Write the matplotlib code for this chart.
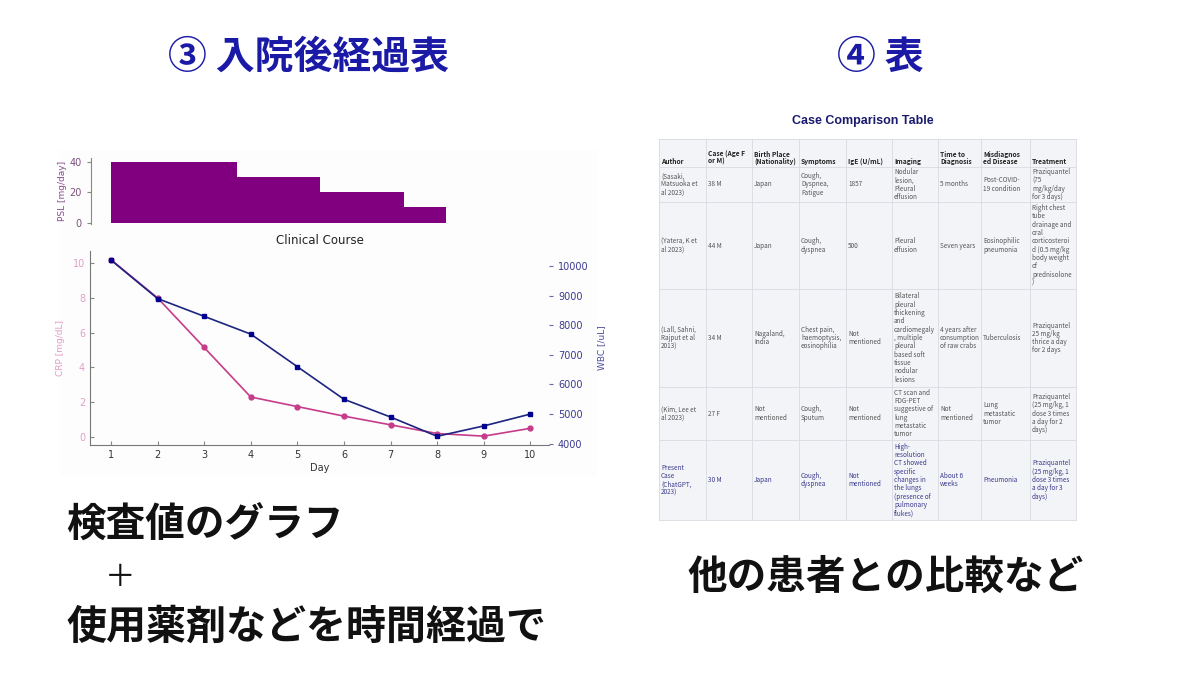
import matplotlib
matplotlib.use("Agg")
import matplotlib.pyplot as plt
from matplotlib.patches import Rectangle

JP = ["Noto Sans CJK JP", "DejaVu Sans"]

# --- clinical course data ---
days = [1, 2, 3, 4, 5, 6, 7, 8, 9, 10]
crp = [10.2, 8.0, 5.15, 2.3, 1.75, 1.2, 0.7, 0.2, 0.05, 0.5]
wbc = [10200, 8900, 8300, 7700, 6600, 5500, 4900, 4250, 4600, 5000]

psl_start = [1, 4, 6, 8]
psl_days = [3, 2, 2, 1]
psl_dose = [40, 30, 20, 10]

# --- comparison table data ---
table_title = "Case Comparison Table"
table_header = ["Author", "Case (Age F\nor M)", "Birth Place\n(Nationality)", "Symptoms",
                "IgE (U/mL)", "Imaging", "Time to\nDiagnosis", "Misdiagnos\ned Disease",
                "Treatment"]
table_rows = [
    ["(Sasaki,\nMatsuoka et\nal 2023)", "38 M", "Japan", "Cough,\nDyspnea,\nFatigue", "1857",
     "Nodular\nlesion,\nPleural\neffusion", "5 months", "Post-COVID-\n19 condition",
     "Praziquantel\n(75\nmg/kg/day\nfor 3 days)"],
    ["(Yatera, K et\nal 2023)", "44 M", "Japan", "Cough,\ndyspnea", "500",
     "Pleural\neffusion", "Seven years", "Eosinophilic\npneumonia",
     "Right chest\ntube\ndrainage and\noral\ncorticosteroi\nd (0.5 mg/kg\nbody weight\nof\nprednisolone\n)"],
    ["(Lall, Sahni,\nRajput et al\n2013)", "34 M", "Nagaland,\nIndia",
     "Chest pain,\nhaemoptysis,\neosinophilia", "Not\nmentioned",
     "Bilateral\npleural\nthickening\nand\ncardiomegaly\n, multiple\npleural\nbased soft\ntissue\nnodular\nlesions",
     "4 years after\nconsumption\nof raw crabs", "Tuberculosis",
     "Praziquantel\n25 mg/kg\nthrice a day\nfor 2 days"],
    ["(Kim, Lee et\nal 2023)", "27 F", "Not\nmentioned", "Cough,\nSputum", "Not\nmentioned",
     "CT scan and\nFDG-PET\nsuggestive of\nlung\nmetastatic\ntumor", "Not\nmentioned",
     "Lung\nmetastatic\ntumor",
     "Praziquantel\n(25 mg/kg, 1\ndose 3 times\na day for 2\ndays)"],
    ["Present\nCase\n(ChatGPT,\n2023)", "30 M", "Japan", "Cough,\ndyspnea", "Not\nmentioned",
     "High-\nresolution\nCT showed\nspecific\nchanges in\nthe lungs\n(presence of\npulmonary\nflukes)",
     "About 6\nweeks", "Pneumonia",
     "Praziquantel\n(25 mg/kg, 1\ndose 3 times\na day for 3\ndays)"],
]

# layout of the table in pixels
col_edges = [659, 706, 752, 799, 846, 892, 938, 981, 1030, 1076]
row_edges = [139, 167, 202, 289, 387, 440, 520]

W, H = 1200, 675


def px_axes(fig, x0, y0, x1, y1):
    return fig.add_axes([x0 / W, 1 - y1 / H, (x1 - x0) / W, (y1 - y0) / H])


fig = plt.figure(figsize=(12, 6.75), dpi=100)
fig.patch.set_facecolor("white")

# ---------- PSL bars ----------
axp = px_axes(fig, 91, 158, 548, 224)
axp.patch.set_alpha(0)
axp.bar(psl_start, psl_dose, width=psl_days, align="edge", color="#800080", linewidth=0)
axp.set_xlim(0.514, 11.45)
axp.set_ylim(-0.85, 42.4)
axp.set_yticks([0, 20, 40])
for s in ["top", "right", "bottom"]:
    axp.spines[s].set_visible(False)
axp.spines["left"].set_color("#888888")
axp.set_xticks([])
axp.tick_params(axis="y", labelsize=7, colors="#888888", labelcolor="#7b4f7b", length=3)
axp.set_ylabel("PSL [mg/day]", fontsize=6.5, color="#8a4a8a", labelpad=2)

# ---------- CRP / WBC ----------
ax = px_axes(fig, 90, 251, 549, 445)
ax.patch.set_alpha(0)
ax.plot(days, crp, color="#c63b8a", marker="o", markersize=3.5, linewidth=1.2)
ax.set_xlim(0.55, 10.4)
ax.set_ylim(-0.46, 10.7)
ax.set_xticks(days)
ax.set_yticks([0, 2, 4, 6, 8, 10])
for s in ["top", "right"]:
    ax.spines[s].set_visible(False)
ax.spines["left"].set_color("#777777")
ax.spines["bottom"].set_color("#777777")
ax.tick_params(axis="y", labelsize=7, colors="#888888", labelcolor="#e0a0c8", length=3,
               direction="in")
ax.tick_params(axis="x", labelsize=7, colors="#888888", labelcolor="#333333", length=3,
               direction="in")
ax.set_ylabel("CRP [mg/dL]", fontsize=6.5, color="#e39bc4", labelpad=6)
ax.set_xlabel("Day", fontsize=7, color="#333333", labelpad=2)
ax.set_title("Clinical Course", fontsize=8.5, color="#222222", pad=5)

ax2 = ax.twinx()
ax2.plot(days, wbc, color="#1c2580", marker="s", markersize=3.5, linewidth=1.2,
         markerfacecolor="#000090", markeredgecolor="#000090")
ax2.set_ylim(3956, 10506)
ax2.set_yticks([4000, 5000, 6000, 7000, 8000, 9000, 10000])
for s in ["top", "right", "left", "bottom"]:
    ax2.spines[s].set_visible(False)
ax2.tick_params(axis="y", labelsize=7, colors="#6a6aa8", labelcolor="#3a3a90", length=3)
ax2.set_ylabel("WBC [/uL]", fontsize=6.5, color="#4a4aa0", labelpad=6)

# ---------- overlay: headings, texts, table ----------
ov = fig.add_axes([0, 0, 1, 1], zorder=-1)
ov.set_xlim(0, W)
ov.set_ylim(H, 0)
ov.axis("off")

# faint background of the pasted chart picture
ov.add_patch(Rectangle((60, 150), 537, 326, facecolor="#fdfdfd", edgecolor="none"))

ov.text(309, 57, "③ 入院後経過表", family=JP, fontsize=28, fontweight="bold",
        color="#1a1aa6", ha="center", va="center")
ov.text(880, 57, "④ 表", family=JP, fontsize=28, fontweight="bold",
        color="#1a1aa6", ha="center", va="center")

ov.text(66, 525, "検査値のグラフ", family=JP, fontsize=28.5, fontweight="bold",
        color="#111111", ha="left", va="center")
ov.text(120, 578, "＋", family=JP, fontsize=22, color="#111111", ha="center", va="center")
ov.text(66, 627, "使用薬剤などを時間経過で", family=JP, fontsize=28.8, fontweight="bold",
        color="#111111", ha="left", va="center")
ov.text(886, 577, "他の患者との比較など", family=JP, fontsize=28.5, fontweight="bold",
        color="#111111", ha="center", va="center")

# table title, cells and grid
ov.text(863, 121, table_title, family=["Liberation Sans"], fontsize=9, fontweight="bold",
        color="#1b1b6e", ha="center", va="center")
ov.add_patch(Rectangle((col_edges[0], row_edges[0]), col_edges[-1] - col_edges[0],
                       row_edges[-1] - row_edges[0], facecolor="#f3f4f8", edgecolor="none"))

grid = "#d8dae0"
for x in col_edges:
    ov.plot([x, x], [row_edges[0], row_edges[-1]], color=grid, linewidth=0.6)
for y in row_edges:
    ov.plot([col_edges[0], col_edges[-1]], [y, y], color=grid, linewidth=0.6)

for j, label in enumerate(table_header):
    ov.text(col_edges[j] + 2, row_edges[1] - 2, label, family=JP, fontsize=4.8,
            fontweight="bold", color="#222222", ha="left", va="bottom", linespacing=1.0)

for i, row in enumerate(table_rows):
    yc = (row_edges[i + 1] + row_edges[i + 2]) / 2
    color = "#3a3a8c" if i == len(table_rows) - 1 else "#555555"
    for j, cell in enumerate(row):
        ov.text(col_edges[j] + 2, yc, cell, family=JP, fontsize=4.6, color=color,
                ha="left", va="center", linespacing=1.05)

fig.savefig("out.png", dpi=100)
